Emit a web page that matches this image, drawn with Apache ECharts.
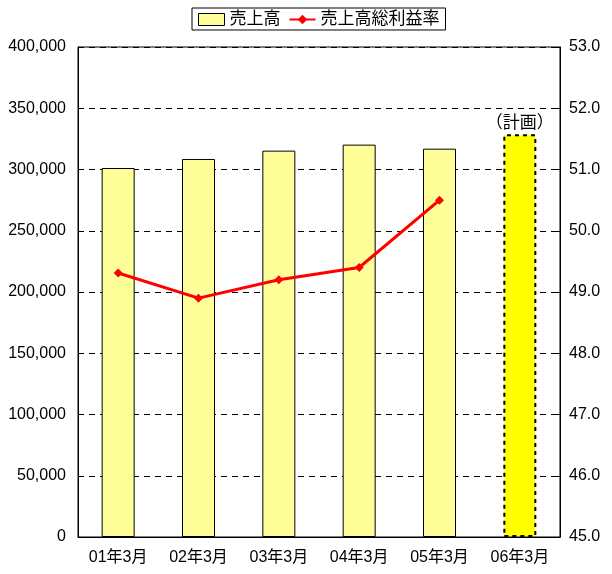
<!DOCTYPE html>
<html><head><meta charset="utf-8">
<script src="https://cdn.jsdelivr.net/npm/echarts@6/dist/echarts.min.js"></script>
<style>html,body{margin:0;padding:0;background:#fff}#c{width:612px;height:574px}</style>
</head><body><div id="c"></div>
<script>
const categories = ['01年3月','02年3月','03年3月','04年3月','05年3月','06年3月'];
const sales = [301200, 308600, 315400, 320300, 317000, 328700];
const margin = [49.31, 48.90, 49.20, 49.40, 50.50, null];
const leftTicks = [0, 50000, 100000, 150000, 200000, 250000, 300000, 350000, 400000];
const planLabel = '（計画）';
const planIndex = 5;

const font = '"Liberation Sans","Noto Sans CJK JP",Arial,sans-serif';
const chart = echarts.init(document.getElementById('c'));
const barData = sales.map((v, i) => i === planIndex ? {
  value: v,
  itemStyle: {color: '#FFFF00', borderColor: '#000', borderWidth: 2, borderType: [4, 4]},
  label: {show: true, position: 'top', formatter: planLabel, color: '#000', fontSize: 17, fontFamily: font, distance: 3}
} : v);

chart.setOption({
  animation: false,
  textStyle: {fontFamily: font},
  legend: {
    top: 8, left: 192,
    backgroundColor: '#fff', borderColor: '#000', borderWidth: 1,
    padding: [3, 6, 2, 6], itemGap: 8, itemWidth: 26, itemHeight: 12,
    textStyle: {fontSize: 17, color: '#000', fontFamily: font},
    data: [
      {name: '売上高', icon: 'rect', itemStyle: {color: '#FFFF99', borderColor: '#000', borderWidth: 1}},
      {name: '売上高総利益率'}
    ]
  },
  grid: {left: 78, right: 52, top: 47, bottom: 37, show: true, borderColor: '#000', borderWidth: 1, backgroundColor: 'transparent'},
  xAxis: {
    type: 'category', data: categories, boundaryGap: true,
    axisLine: {lineStyle: {color: '#000', width: 1}},
    axisTick: {inside: true, length: 5, lineStyle: {color: '#000'}},
    axisLabel: {color: '#000', fontSize: 16, margin: 13, fontFamily: font}
  },
  yAxis: [
    {
      type: 'value', min: 0, max: 400000, interval: 50000,
      axisLine: {show: true, lineStyle: {color: '#000'}},
      axisTick: {show: true, inside: true, length: 5, lineStyle: {color: '#000'}},
      axisLabel: {color: '#000', fontSize: 16, margin: 12, fontFamily: font,
        formatter: v => leftTicks.includes(v) ? v.toLocaleString('en-US') : ''},
      splitLine: {show: true, lineStyle: {color: '#000', type: [6, 5], width: 1}}
    },
    {
      type: 'value', min: 45, max: 53, interval: 1, position: 'right',
      axisLine: {show: true, lineStyle: {color: '#000'}},
      axisTick: {show: true, inside: true, length: 5, lineStyle: {color: '#000'}},
      axisLabel: {color: '#000', fontSize: 16, margin: 9, fontFamily: font, formatter: v => v.toFixed(1)},
      splitLine: {show: false}
    }
  ],
  series: [
    {
      name: '売上高', type: 'bar', yAxisIndex: 0, data: barData, barWidth: 33,
      itemStyle: {color: '#FFFF99', borderColor: '#000', borderWidth: 1}
    },
    {
      name: '売上高総利益率', type: 'line', yAxisIndex: 1, data: margin,
      symbol: 'diamond', symbolSize: 9, connectNulls: false,
      lineStyle: {color: '#FF0000', width: 3}, itemStyle: {color: '#FF0000'}
    }
  ]
});
</script></body></html>
